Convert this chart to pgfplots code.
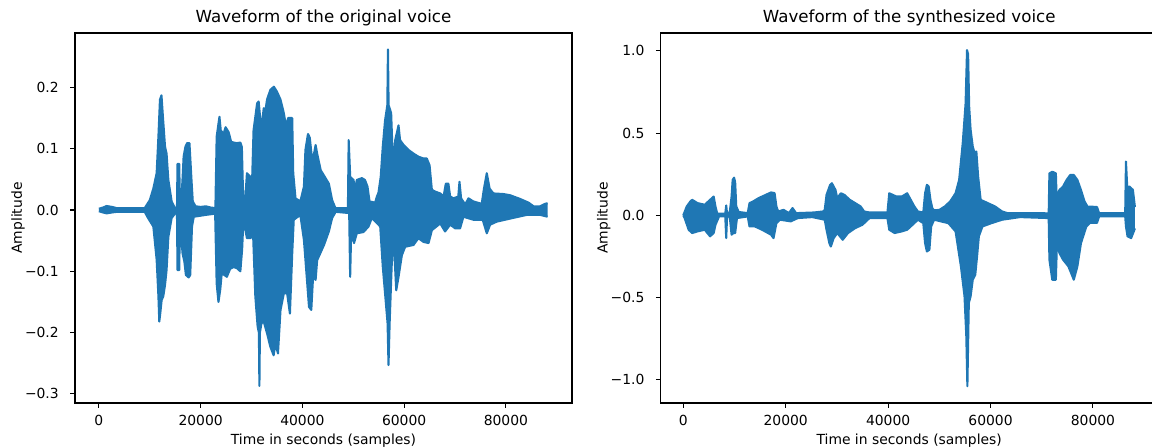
\documentclass[border=0pt]{standalone}
\usepackage{fontspec}
\setmainfont{DejaVu Sans}
\usepackage{pgfplots}
\pgfplotsset{compat=1.18}
\usepgfplotslibrary{fillbetween}
\usepackage{pgfplotstable}
\definecolor{mplblue}{HTML}{1F77B4}

% envelope of the original voice (upper / lower)
\pgfplotstableread{
t a
0 0.002
800 0.004
1500 0.0065
2600 0.005
3500 0.003
9000 0.003
10000 0.016
10700 0.035
11350 0.06
11700 0.12
12000 0.18
12300 0.187
12600 0.15
13000 0.103
13300 0.092
13650 0.049
14300 0.014
14950 0.003
15350 0.004
15450 0.075
15800 0.075
15900 0.01
16300 0.03
16450 0.052
16650 0.087
17000 0.103
17330 0.109
17800 0.109
18200 0.049
18450 0.014
19000 0.006
20000 0.005
21000 0.006
22000 0.004
22900 0.003
23150 0.12
23700 0.152
23950 0.13
24500 0.124
24900 0.135
25500 0.127
26000 0.111
26500 0.11
27100 0.109
27800 0.11
28100 0.103
28350 0.022
28800 0.022
29100 0.06
29800 0.054
30100 0.043
30400 0.13
31100 0.174
31400 0.177
31750 0.146
32050 0.14
32400 0.166
32750 0.163
33050 0.18
33700 0.196
34400 0.201
35000 0.193
35700 0.18
36350 0.158
36800 0.136
37200 0.15
38000 0.15
38200 0.06
38650 0.019
39600 0.014
40300 0.038
40600 0.098
41100 0.124
41450 0.118
41900 0.083
42250 0.09
42600 0.106
42900 0.092
43600 0.065
44550 0.052
45200 0.043
45850 0.016
46500 0.003
48950 0.003
49100 0.114
49400 0.054
50050 0.049
50350 0.033
50700 0.049
51700 0.052
52300 0.049
52800 0.038
53200 0.014
54300 0.012
54650 0.022
54950 0.028
55400 0.054
55800 0.103
56250 0.146
56700 0.171
56820 0.262
56950 0.171
57450 0.158
57700 0.1
57800 0.028
57950 0.08
58250 0.114
58900 0.138
59200 0.114
59900 0.106
60850 0.098
61850 0.092
62800 0.087
63800 0.084
64450 0.084
65000 0.073
65450 0.033
66100 0.03
67100 0.027
67750 0.022
68200 0.043
68700 0.043
69050 0.022
69700 0.019
70650 0.022
70880 0.046
71200 0.019
72000 0.009
72650 0.019
73600 0.014
75250 0.01
75700 0.035
76250 0.06
76800 0.035
77550 0.027
79550 0.026
80850 0.024
82800 0.018
84450 0.012
85450 0.006
86750 0.006
87700 0.01
88200 0.011
}\origup
\pgfplotstableread{
t a
0 -0.002
800 -0.004
1500 -0.0055
2600 -0.004
3500 -0.003
9000 -0.003
9700 -0.0136
10700 -0.027
11350 -0.081
11700 -0.141
11870 -0.182
12070 -0.168
12330 -0.147
12650 -0.141
13000 -0.122
13300 -0.098
13650 -0.044
14300 -0.013
14950 -0.006
15350 -0.006
15450 -0.098
15800 -0.098
15900 -0.02
16450 -0.071
16800 -0.084
17100 -0.106
17650 -0.11
17950 -0.106
18300 -0.027
18650 -0.011
21000 -0.008
22850 -0.006
23150 -0.12
23500 -0.15
23850 -0.13
24150 -0.103
24650 -0.106
25150 -0.109
25800 -0.096
26500 -0.093
27150 -0.095
27800 -0.1
28150 -0.065
28350 -0.027
28800 -0.033
29100 -0.046
29800 -0.046
30300 -0.038
30750 -0.141
31200 -0.19
31450 -0.2
31550 -0.287
31650 -0.2
31950 -0.185
32400 -0.182
33050 -0.201
33700 -0.223
34350 -0.237
34700 -0.218
35200 -0.234
35700 -0.163
36350 -0.136
37000 -0.136
37550 -0.169
38000 -0.071
38300 -0.016
39600 -0.008
40300 -0.049
40800 -0.103
41300 -0.158
41750 -0.163
42100 -0.109
42600 -0.114
42900 -0.082
44250 -0.057
45200 -0.035
45850 -0.013
46550 -0.003
49200 -0.005
49390 -0.109
49600 -0.033
50150 -0.054
50700 -0.038
52000 -0.036
53000 -0.027
53650 -0.013
54500 -0.02
55300 -0.027
55800 -0.092
56250 -0.136
56750 -0.185
56930 -0.253
57150 -0.185
57550 -0.092
57900 -0.04
58450 -0.131
58900 -0.109
59550 -0.074
60200 -0.06
61850 -0.057
62800 -0.046
63800 -0.052
64800 -0.054
65450 -0.033
67100 -0.022
68050 -0.035
69050 -0.024
70050 -0.03
71000 -0.03
71650 -0.011
73650 -0.016
75450 -0.016
76250 -0.038
76900 -0.024
78200 -0.019
80850 -0.014
84100 -0.008
86750 -0.008
88200 -0.011
}\origlo

% envelope of the synthesized voice (upper / lower)
\pgfplotstableread{
t a
0 0.0
680 0.054
1380 0.084
1730 0.094
2780 0.074
4180 0.064
4880 0.084
5580 0.104
5930 0.114
6280 0.054
6630 0.01
8200 0.01
8380 0.06
8550 0.01
9080 0.02
9430 0.114
9640 0.215
9920 0.229
10130 0.2
10340 0.054
10830 0.02
12580 0.013
12930 0.074
13630 0.084
14680 0.104
16080 0.124
17130 0.139
17830 0.135
18180 0.054
18530 0.023
19580 0.033
20630 0.013
21330 0.044
22030 0.013
25530 0.017
27270 0.023
27620 0.033
27970 0.124
28670 0.185
29020 0.195
29720 0.154
30070 0.104
30770 0.134
31470 0.124
32520 0.094
33570 0.074
34620 0.054
35320 0.023
36370 0.017
39870 0.017
40220 0.134
40920 0.124
41620 0.114
42670 0.114
43720 0.134
44420 0.094
45120 0.054
45820 0.023
46870 0.017
47220 0.134
47570 0.185
47920 0.175
48270 0.094
48620 0.044
48970 0.03
50020 0.033
51070 0.054
52120 0.084
53170 0.134
53870 0.215
54570 0.438
55130 0.68
55410 1.005
55620 0.98
55830 0.66
56110 0.52
56530 0.418
56880 0.378
57230 0.388
57580 0.236
58070 0.094
59470 0.074
60870 0.054
62270 0.023
63320 0.013
71360 0.012
71500 0.255
72060 0.265
72760 0.255
72900 0.114
73460 0.154
74160 0.175
74860 0.215
75560 0.245
76260 0.245
76960 0.215
77660 0.154
78360 0.084
79000 0.05
79430 0.053
80800 0.05
81200 0.013
86300 0.013
86450 0.327
86650 0.2
86800 0.13
87100 0.175
87800 0.155
88200 0.05
}\synthup
\pgfplotstableread{
t a
0 0.0
300 -0.02
1040 -0.088
1730 -0.108
2780 -0.098
4180 -0.088
5230 -0.128
5930 -0.108
6280 -0.058
6980 -0.007
8200 -0.007
8380 -0.139
8550 -0.007
9080 -0.01
9430 -0.118
9780 -0.108
10130 -0.108
10480 -0.017
12580 -0.007
12930 -0.068
13980 -0.068
15380 -0.088
17130 -0.118
17620 -0.139
18180 -0.048
18880 -0.027
20980 -0.037
22380 -0.017
25180 -0.011
27620 -0.027
27970 -0.088
28530 -0.17
28810 -0.19
29370 -0.139
30070 -0.108
31120 -0.149
32170 -0.108
33570 -0.078
34970 -0.058
36370 -0.017
39870 -0.017
40220 -0.088
41270 -0.108
42670 -0.098
43720 -0.088
44770 -0.058
45820 -0.027
46870 -0.048
47220 -0.17
47570 -0.22
48060 -0.21
48410 -0.068
48970 -0.027
51770 -0.048
53170 -0.098
54220 -0.311
54920 -0.493
55270 -0.736
55480 -1.04
55760 -0.534
56110 -0.493
56530 -0.392
57020 -0.362
57370 -0.25
57720 -0.128
58420 -0.068
60170 -0.048
62270 -0.027
65770 -0.011
71360 -0.017
71500 -0.27
72060 -0.392
72760 -0.392
72970 -0.17
73460 -0.23
74160 -0.27
75210 -0.311
76260 -0.392
76960 -0.311
77660 -0.17
78710 -0.068
79430 -0.046
80800 -0.046
81200 -0.007
86300 -0.007
86450 -0.068
86760 -0.128
87460 -0.139
88200 -0.08
}\synthlo

\pgfplotsset{
  wave/.style={
    scale only axis, width=357.84pt, height=266.4pt,
    axis line style={line width=0.8pt, black},
    tick align=outside, major tick length=3.5pt,
    every tick/.style={black, line width=0.8pt},
    xtick pos=bottom, ytick pos=left,
    tick label style={font=\fontsize{10}{12}\selectfont, text=black},
    label style={font=\fontsize{10}{12}\selectfont},
    title style={font=\fontsize{12}{14}\selectfont, at={(axis description cs:0.5,1)}, anchor=base, yshift=1.5pt},
    xtick={0,20000,40000,60000,80000},
    xticklabels={0,20000,40000,60000,80000},
    xticklabel style={anchor=base, inner sep=0pt, yshift=-13pt},
    yticklabel style={anchor=east, inner sep=0pt, xshift=-8pt},
    xlabel style={at={(axis description cs:0.5,-0.111)}, anchor=base},
    ylabel style={at={(axis description cs:-0.107,0.5)}, anchor=base},
    xlabel={Time in seconds (samples)},
    ylabel={Amplitude},
    scaled ticks=false,
  },
  env/.style={mplblue, line width=1.5pt, line join=round, mark=none},
}

\begin{document}
\begin{tikzpicture}
\begin{axis}[wave, at={(54pt,32.4pt)}, anchor=south west,
  title={Waveform of the original voice},
  xmin=-4700, xmax=93000, ymin=-0.3148, ymax=0.2887,
  ytick={-0.3,-0.2,-0.1,0,0.1,0.2},
  yticklabels={−0.3,−0.2,−0.1,0.0,0.1,0.2}]
\addplot[env, name path=ou] table[x=t, y=a] {\origup};
\addplot[env, name path=ol] table[x=t, y=a] {\origlo};
\addplot[mplblue, draw=none] fill between[of=ou and ol];
\end{axis}
\begin{axis}[wave, at={(475.7pt,32.4pt)}, anchor=south west,
  title={Waveform of the synthesized voice},
  xmin=-4414, xmax=92650, ymin=-1.142, ymax=1.109,
  ytick={-1,-0.5,0,0.5,1},
  yticklabels={−1.0,−0.5,0.0,0.5,1.0}]
\addplot[env, name path=su] table[x=t, y=a] {\synthup};
\addplot[env, name path=sl] table[x=t, y=a] {\synthlo};
\addplot[mplblue, draw=none] fill between[of=su and sl];
\end{axis}
\pgfresetboundingbox
\useasboundingbox (0,0) rectangle (829.44pt,322.56pt);
\end{tikzpicture}
\end{document}
